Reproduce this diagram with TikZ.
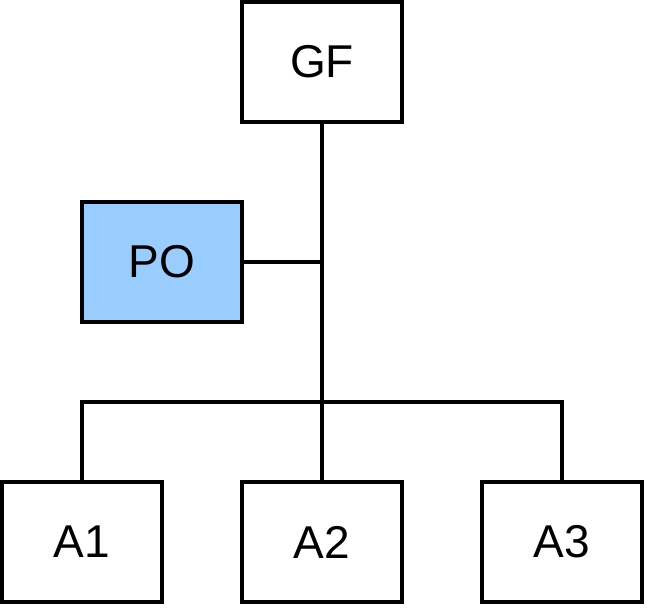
\documentclass[tikz,border=0pt]{standalone}
\usepackage{fontspec}
\setmainfont{Liberation Sans}
\definecolor{poblue}{HTML}{99CCFF}
\begin{document}
\begin{tikzpicture}[x=1pt,y=-1pt,
  box/.style={draw=black,line width=3.5pt,minimum width=160pt,minimum height=120pt,inner sep=0pt,font=\fontsize{46}{52}\selectfont,fill=white},
  conn/.style={line width=3.5pt,draw=black}]
\useasboundingbox (0,0) rectangle (648,608);
\node[box] (GF) at (322,62) {GF};
\node[box,fill=poblue] (PO) at (162,262) {PO};
\node[box] (A1) at (82,542) {A1};
\node[box] (A2) at (322,542) {A2};
\node[box] (A3) at (562,542) {A3};
\coordinate (J1) at (322,262);
\coordinate (J2) at (322,402);
\draw[conn] (GF.south) -- (J1) -- (J2) -- (A2.north);
\draw[conn] (PO.east) -- (J1);
\draw[conn,line join=miter] (A1.north) |- (J2) -| (A3.north);
\end{tikzpicture}
\end{document}
